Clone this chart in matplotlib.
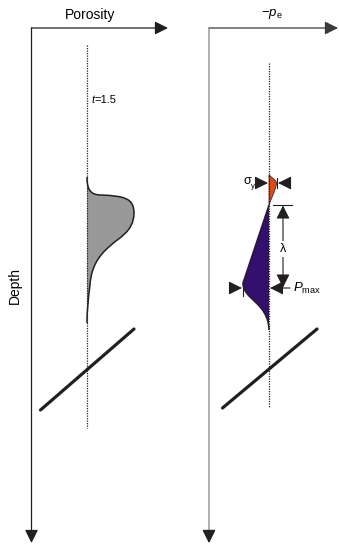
import matplotlib
matplotlib.use("Agg")
import matplotlib.pyplot as plt
from matplotlib.path import Path
from matplotlib.patches import PathPatch

plt.rcParams["font.family"] = ["Liberation Sans", "DejaVu Sans"]
plt.rcParams["mathtext.fontset"] = "custom"
plt.rcParams["mathtext.rm"] = "Liberation Sans"
plt.rcParams["mathtext.it"] = "Liberation Sans:italic"

# ----------------------------------------
# sketch geometry (drawing units = pixels, y grows downward)
# ----------------------------------------
AXIS_TOP = 28
AXIS_BOTTOM = 543
LEFT_AXIS_X = 31.5
LEFT_AXIS_END = 168
RIGHT_AXIS_X = 209
RIGHT_AXIS_END = 338

# reference (dotted) lines: x, y_top, y_bottom
left_ref = [87, 45, 428]
right_ref = [269, 63, 408]

# porosity bulge: start point, then bezier segments (ctrl1, ctrl2, end)
porosity_start = (87, 177)
porosity_segments = [
    ((87, 189), (90, 195), (101, 195)),
    ((124, 196), (134, 198), (134, 213)),
    ((134, 232), (118, 238), (110, 246)),
    ((98, 256), (91, 268), (90, 285)),
    ((88, 300), (87, 312), (87, 323)),
]

# pressure profile: yield part (orange) and excess part (purple)
yield_start = (269, 175)
yield_segments = [
    ((272, 178), (277, 180), (276.5, 184)),
    ((275, 192), (271, 199), (269, 205)),
]
excess_start = (269, 205)
excess_line_end = (243, 283)
excess_segments = [
    ((243, 300), (268, 302), (269, 330)),
]

# broken-depth markers: (x0, y0, x1, y1)
break_lines = [
    (40.5, 410, 134, 329),
    (222.5, 408, 317, 329),
]

INK = "#231f20"
GREY_FILL = "#999999"
ORANGE = "#e8470f"
PURPLE = "#33106e"


def _bezier_path(start, segments, close_x=None):
    verts = [start]
    codes = [Path.MOVETO]
    for c1, c2, end in segments:
        verts += [c1, c2, end]
        codes += [Path.CURVE4] * 3
    if close_x is not None:
        verts += [start]
        codes += [Path.LINETO]
    return Path(verts, codes)


def _arrow(ax, tail, tip, color=INK, lw=0.9, hl=0.8, hw=0.4, scale=10):
    ax.annotate(
        "",
        xy=tip,
        xytext=tail,
        arrowprops=dict(
            arrowstyle=f"-|>,head_length={hl},head_width={hw}",
            color=color,
            lw=lw,
            shrinkA=0,
            shrinkB=0,
            mutation_scale=scale,
        ),
    )


fig = plt.figure(figsize=(3.39, 5.44), dpi=100)
ax = fig.add_axes([0, 0, 1, 1])
ax.set_xlim(0, 339)
ax.set_ylim(544, 0)
ax.axis("off")

# ---- axes with arrowheads
_arrow(ax, (LEFT_AXIS_X, AXIS_TOP), (LEFT_AXIS_END, AXIS_TOP))
_arrow(ax, (LEFT_AXIS_X, AXIS_TOP), (LEFT_AXIS_X, AXIS_BOTTOM))
_arrow(ax, (RIGHT_AXIS_X, AXIS_TOP), (RIGHT_AXIS_END, AXIS_TOP), color="#3a3a3a")
_arrow(ax, (RIGHT_AXIS_X, AXIS_TOP), (RIGHT_AXIS_X, AXIS_BOTTOM), color="#858585")
_arrow(ax, (RIGHT_AXIS_X, AXIS_BOTTOM - 12), (RIGHT_AXIS_X, AXIS_BOTTOM), color=INK)

ax.text(90, 15, "Porosity", fontsize=10, ha="center", va="center")
ax.text(272, 14, r"$-p_{\rm e}$", fontsize=9.5, ha="center", va="center")
ax.text(15, 285, "Depth", fontsize=10, rotation=90, ha="center", va="center")

# ---- dotted reference lines
for x, y0, y1 in (left_ref, right_ref):
    ax.plot([x, x], [y0, y1], color=INK, lw=0.9, ls=(0, (1, 1)), zorder=4)

ax.text(91, 100, "t", fontsize=8, style="italic", ha="left", va="center")
ax.text(94, 100, "=1.5", fontsize=8, ha="left", va="center")

# ---- porosity bulge
ax.add_patch(PathPatch(_bezier_path(porosity_start, porosity_segments, close_x=87),
                       facecolor=GREY_FILL, edgecolor="none", zorder=2))
ax.add_patch(PathPatch(_bezier_path(porosity_start, porosity_segments),
                       facecolor="none", edgecolor=INK, lw=1.1, zorder=3))

# ---- pressure profile
ax.add_patch(PathPatch(_bezier_path(yield_start, yield_segments, close_x=269),
                       facecolor=ORANGE, edgecolor=INK, lw=0.5, zorder=2))
excess_verts = [excess_start, excess_line_end]
excess_codes = [Path.MOVETO, Path.LINETO]
for c1, c2, end in excess_segments:
    excess_verts += [c1, c2, end]
    excess_codes += [Path.CURVE4] * 3
ax.add_patch(PathPatch(Path(excess_verts + [excess_start], excess_codes + [Path.LINETO]),
                       facecolor=PURPLE, edgecolor="none", zorder=2))
ax.add_patch(PathPatch(Path(excess_verts, excess_codes),
                       facecolor="none", edgecolor=INK, lw=1.1, zorder=3))

# ---- depth break markers
for x0, y0, x1, y1 in break_lines:
    ax.plot([x0, x1], [y0, y1], color=INK, lw=2.3, solid_capstyle="round", zorder=5)

# ---- dimension marks
small = dict(lw=0.8, hl=0.9, hw=0.45, scale=9)
# sigma_y
_arrow(ax, (258, 183), (268, 183), **small)
_arrow(ax, (290, 183), (278, 183), **small)
ax.plot([277, 277], [178, 188], color=INK, lw=0.8)
ax.text(247, 181, "σ", fontsize=9, ha="center", va="center")
ax.text(252.5, 186, "y", fontsize=5.5, ha="center", va="center")

# lambda
ax.plot([273, 292], [205, 205], color=INK, lw=0.8)
_arrow(ax, (283, 246), (283, 205.5), **small)
_arrow(ax, (283, 246), (283, 287.5), **small)
ax.text(283, 249, "λ", fontsize=9, ha="center", va="center",
        bbox=dict(boxstyle="square,pad=0.15", fc="white", ec="none"), zorder=6)

# P_max
_arrow(ax, (230, 288), (242, 288), **small)
ax.plot([243, 243], [280, 296], color=INK, lw=0.8)
_arrow(ax, (290, 288), (270, 288), **small)
ax.text(293, 288, r"$P_{\rm max}$", fontsize=9.5, ha="left", va="center")

fig.savefig("out.png", dpi=100)
